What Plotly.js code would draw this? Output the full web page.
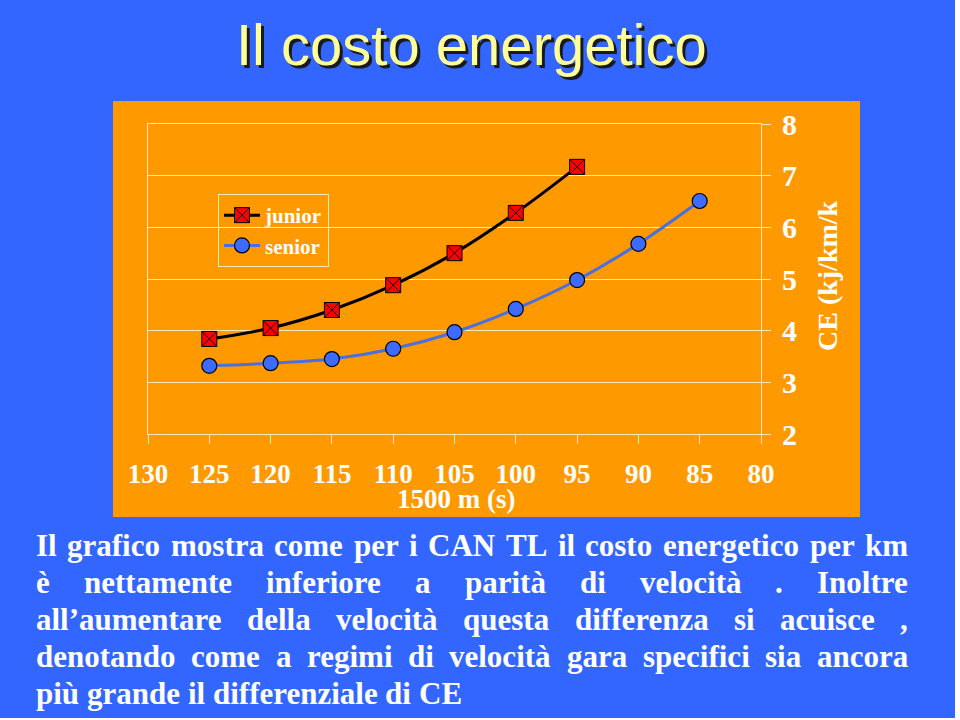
<!DOCTYPE html>
<html><head><meta charset="utf-8">
<script src="https://cdn.plot.ly/plotly-3.0.1.min.js"></script>
<style>html,body{margin:0;padding:0;background:#fff;} #chart{width:960px;height:720px;}</style>
</head><body><div id="chart"></div>
<script>
// ---- data ----
const juniorTime = [125, 120, 115, 110, 105, 100, 95];
const juniorCE   = [3.84, 4.05, 4.40, 4.88, 5.50, 6.28, 7.17];
const seniorTime = [125, 120, 115, 110, 105, 100, 95, 90, 85];
const seniorCE   = [3.32, 3.37, 3.45, 3.65, 3.97, 4.42, 4.98, 5.68, 6.51];
const xTickVals  = [130, 125, 120, 115, 110, 105, 100, 95, 90, 85, 80];
const yTickVals  = [2, 3, 4, 5, 6, 7, 8];
const seriesNames = ["junior", "senior"];
const titleText = "Il costo energetico";
const xTitle = "1500 m (s)";
const yTitle = "CE (kj/km/k";
const bodyLines = [
  "Il grafico mostra come per i CAN TL il costo energetico per km",
  "è nettamente inferiore a parità di velocità . Inoltre",
  "all’aumentare della velocità questa differenza si acuisce ,",
  "denotando come a regimi di velocità gara specifici sia ancora",
  "più grande il differenziale di CE"
];
const bodyJustified = [true, true, true, true, false];

// ---- geometry helpers (pixel -> paper) ----
const W = 960, H = 720;
const L = 148, R = 761, T = 124, B = 434;
const px2x = p => (p - L) / (R - L);
const py2y = p => (B - p) / (B - T);

const SERIF = "Liberation Serif, Times New Roman, serif";
const SANS = "Liberation Sans, Arial, sans-serif";
const WHITE = "#FFFFFF";
const CREAM = "#FFE9B8";

const traces = [
  {
    x: juniorTime, y: juniorCE, name: seriesNames[0], type: "scatter", mode: "lines+markers",
    line: {color: "#000000", width: 3, shape: "spline", smoothing: 1},
    marker: {symbol: "square-x", size: 15, color: "#FF0000", line: {color: "#000000", width: 1}}
  },
  {
    x: seniorTime, y: seniorCE, name: seriesNames[1], type: "scatter", mode: "lines+markers",
    line: {color: "#4A6FE0", width: 3, shape: "spline", smoothing: 1},
    marker: {symbol: "circle", size: 15, color: "#3D6BFF", line: {color: "#000000", width: 1.2}}
  }
];

// ---- body text: justified words ----
const bodySize = 31;
const canvas = document.createElement("canvas");
const ctx = canvas.getContext("2d");
ctx.font = "bold " + bodySize + "px 'Liberation Serif'";
const annotations = [];
const textLeft = 35, textRight = 907;
const baselines = [555, 592, 629, 666, 703];
bodyLines.forEach((line, i) => {
  const words = line.split(" ");
  const widths = words.map(w => ctx.measureText(w).width);
  const total = widths.reduce((a, b) => a + b, 0);
  const gap = bodyJustified[i] ? (textRight - textLeft - total) / (words.length - 1) : ctx.measureText(" ").width;
  let xpos = textLeft;
  words.forEach((w, j) => {
    annotations.push({
      text: w, xref: "paper", yref: "paper", x: px2x(xpos - 1), y: py2y(baselines[i] - 10),
      xanchor: "left", yanchor: "middle", showarrow: false,
      font: {family: SERIF, size: bodySize, color: WHITE, weight: "bold"}
    });
    xpos += widths[j] + gap;
  });
});

annotations.push({
  text: titleText, xref: "paper", yref: "paper", x: px2x(471), y: py2y(44),
  xanchor: "center", yanchor: "middle", showarrow: false,
  font: {family: SANS, size: 58, color: "#FFFF99", shadow: "3px 3px 0px #1a1a1a"}
});
annotations.push({
  text: xTitle, xref: "paper", yref: "paper", x: px2x(456), y: py2y(499),
  xanchor: "center", yanchor: "middle", showarrow: false,
  font: {family: SERIF, size: 27, color: WHITE, weight: "bold"}
});
annotations.push({
  text: yTitle, xref: "paper", yref: "paper", x: px2x(827), y: py2y(276),
  xanchor: "center", yanchor: "middle", showarrow: false, textangle: -90,
  font: {family: SERIF, size: 28, color: WHITE, weight: "bold"}
});

const shapes = [
  {type: "rect", xref: "paper", yref: "paper", layer: "below",
   x0: px2x(113), x1: px2x(860), y0: py2y(517), y1: py2y(101),
   fillcolor: "#FF9900", line: {width: 0}},
  {type: "rect", xref: "paper", yref: "paper", layer: "below",
   x0: px2x(955), x1: px2x(962), y0: py2y(722), y1: py2y(-2),
   fillcolor: "#FFFFFF", line: {width: 0}},
  {type: "rect", xref: "paper", yref: "paper", layer: "below",
   x0: px2x(-2), x1: px2x(962), y0: py2y(722), y1: py2y(718),
   fillcolor: "#FFFFFF", line: {width: 0}}
];

const layout = {
  width: W, height: H, autosize: false,
  margin: {l: L, r: W - R, t: T, b: H - B, pad: 0},
  paper_bgcolor: "#3366FF", plot_bgcolor: "#FF9900",
  showlegend: true,
  legend: {
    x: px2x(218), y: py2y(194), xanchor: "left", yanchor: "top",
    bgcolor: "rgba(0,0,0,0)", bordercolor: CREAM, borderwidth: 1, itemwidth: 36,
    font: {family: SERIF, size: 21, color: WHITE, weight: "bold"}, tracegroupgap: 0
  },
  xaxis: {
    range: [130, 80], tickvals: xTickVals, ticks: "outside", ticklen: 9, tickcolor: CREAM, tickwidth: 1,
    showline: true, linecolor: CREAM, linewidth: 1, mirror: true, showgrid: false, zeroline: false,
    ticklabelstandoff: 7,
    tickfont: {family: SERIF, size: 27, color: WHITE, weight: "bold"}
  },
  yaxis: {
    range: [2, 8], tickvals: yTickVals, side: "right", ticks: "outside", ticklen: 9, tickcolor: CREAM, tickwidth: 1,
    showline: true, linecolor: CREAM, linewidth: 1, mirror: true, showgrid: true, gridcolor: CREAM, gridwidth: 1,
    zeroline: false, ticklabelstandoff: 5,
    tickfont: {family: SERIF, size: 30, color: WHITE, weight: "bold"}
  },
  annotations: annotations,
  shapes: shapes
};

Plotly.newPlot("chart", traces, layout, {displayModeBar: false, staticPlot: true});
</script>
</body></html>
